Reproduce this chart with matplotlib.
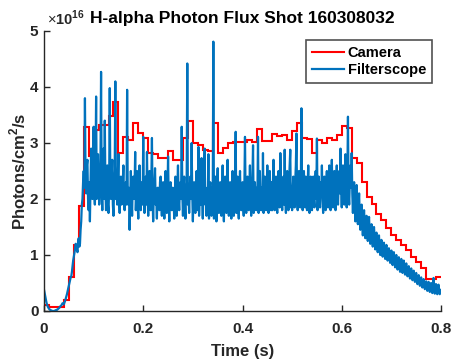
import numpy as np
import matplotlib
matplotlib.use("Agg")
import matplotlib.pyplot as plt

plt.rcParams['font.family'] = ['Liberation Sans', 'DejaVu Sans']
plt.rcParams['mathtext.fontset'] = 'custom'
plt.rcParams['mathtext.rm'] = 'Liberation Sans'
plt.rcParams['mathtext.bf'] = 'Liberation Sans:bold'

title = "H-alpha Photon Flux Shot 160308032"
xlabel = "Time (s)"
ylabel = r"Photons/cm$^{\mathbf{2}}$/s"
x_ticks = [0, 0.2, 0.4, 0.6, 0.8]
x_ticklabels = ["0", "0.2", "0.4", "0.6", "0.8"]
y_ticks = [0, 1, 2, 3, 4, 5]
y_ticklabels = ["0", "1", "2", "3", "4", "5"]

# Camera: one value per frame (units of 1e16 photons/cm^2/s), frame period 0.01 s
camera_frame = 0.01
camera_vals = [
    0.10, 0.08, 0.08, 0.08, 0.20, 0.60, 1.18, 1.88, 3.29, 2.76,
    3.23, 3.32, 3.32, 3.48, 3.74, 2.83, 3.11, 3.05, 3.36, 3.18,
    3.09, 2.82, 2.80, 2.73, 2.73, 2.85, 2.70, 2.70, 3.09, 3.40,
    3.00, 2.96, 2.88, 2.85, 3.36, 2.82, 2.91, 3.00, 3.02, 3.02,
    3.02, 3.05, 3.02, 3.25, 3.04, 3.04, 3.16, 3.12, 3.14, 3.05,
    3.22, 3.36, 3.09, 3.07, 2.82, 3.05, 3.00, 3.09, 3.05, 3.14,
    3.30, 3.26, 2.74, 2.64, 2.31, 2.04, 1.91, 1.74, 1.62, 1.48,
    1.36, 1.27, 1.18, 1.09, 0.97, 0.88, 0.76, 0.58, 0.58, 0.61,
]

# Filterscope: sampled every 0.00125 s (units of 1e16 photons/cm^2/s)
filt_dt = 0.00125
filt_vals = [
    0.38, 0.32, 0.25, 0.20, 0.15, 0.11, 0.08, 0.06, 0.04, 0.03, 0.02, 0.01, 0.01, 0.00, 0.00, 0.00,
    0.00, 0.00, 0.01, 0.01, 0.02, 0.02, 0.03, 0.04, 0.05, 0.06, 0.08, 0.09, 0.10, 0.12, 0.14, 0.13,
    0.12, 0.15, 0.18, 0.22, 0.26, 0.30, 0.35, 0.40, 0.45, 0.50, 0.55, 0.60, 0.62, 0.70, 0.80, 0.90,
    0.97, 1.05, 1.10, 1.20, 1.18, 1.10, 1.05, 1.25, 1.30, 1.15, 1.20, 1.45, 1.60, 1.90, 2.00, 2.30,
    2.50, 2.20, 3.80, 2.40, 2.10, 2.60, 2.70, 2.00, 1.80, 2.30, 1.60, 2.20, 2.90, 2.10, 2.00, 2.50,
    3.29, 2.10, 1.90, 2.50, 3.83, 2.00, 2.20, 2.80, 2.40, 1.90, 2.20, 2.60, 4.27, 2.10, 1.80, 2.40,
    2.90, 2.00, 3.40, 2.20, 1.80, 2.30, 2.60, 1.90, 1.75, 2.20, 3.98, 2.10, 2.00, 2.40, 2.70, 1.90,
    1.70, 2.20, 2.50, 4.10, 2.00, 2.20, 1.90, 2.40, 2.80, 2.00, 1.75, 2.20, 2.40, 1.90, 2.00, 2.30,
    2.60, 2.00, 1.80, 2.20, 2.30, 1.90, 3.95, 2.10, 1.90, 2.20, 1.45, 2.00, 2.50, 2.10, 1.70, 2.30,
    2.40, 2.00, 2.20, 2.84, 1.80, 2.10, 2.50, 1.90, 1.65, 2.20, 2.60, 2.00, 1.80, 2.20, 2.30, 1.90,
    3.11, 2.00, 1.75, 2.20, 2.40, 1.90, 2.84, 2.10, 1.70, 2.20, 2.50, 1.90, 1.80, 2.30, 3.09, 2.00,
    1.60, 2.10, 2.30, 2.55, 1.90, 2.00, 1.65, 2.20, 2.20, 1.90, 1.80, 2.30, 2.40, 2.00, 1.70, 2.20,
    2.30, 1.90, 1.65, 2.20, 2.50, 2.00, 1.75, 2.10, 2.76, 2.00, 1.60, 2.20, 2.30, 1.90, 1.80, 2.20,
    2.20, 1.90, 1.65, 2.10, 2.40, 2.00, 1.70, 2.20, 2.60, 2.00, 1.80, 2.20, 2.30, 2.00, 3.29, 2.10,
    1.70, 2.20, 2.40, 1.90, 1.65, 2.10, 2.30, 4.42, 1.90, 2.10, 1.75, 2.20, 2.40, 2.00, 3.00, 2.10,
    1.60, 2.10, 2.30, 1.90, 1.75, 2.20, 2.50, 2.00, 1.80, 2.93, 1.70, 2.10, 2.30, 1.90, 2.73, 2.00,
    1.65, 2.20, 2.40, 2.90, 1.90, 2.00, 1.70, 2.20, 1.90, 2.80, 1.65, 2.10, 2.30, 1.90, 1.70, 2.20,
    2.00, 4.81, 1.65, 2.10, 2.40, 1.90, 1.60, 2.20, 2.55, 1.90, 1.75, 2.20, 2.30, 1.90, 1.70, 2.10,
    2.60, 2.00, 1.60, 2.20, 2.40, 1.90, 1.75, 2.10, 2.70, 2.00, 1.70, 2.20, 2.30, 1.90, 1.65, 2.10,
    2.50, 2.00, 1.70, 2.20, 2.40, 3.20, 1.75, 2.10, 2.40, 1.90, 1.65, 2.20, 2.50, 2.00, 1.80, 2.20,
    2.30, 1.90, 1.70, 2.20, 3.11, 2.00, 1.75, 2.20, 2.40, 1.90, 1.80, 2.20, 2.60, 2.00, 1.70, 2.20,
    2.40, 2.96, 1.75, 2.10, 2.30, 1.90, 1.80, 2.20, 2.00, 3.11, 1.75, 2.10, 2.50, 2.00, 1.80, 2.20,
    1.80, 2.82, 1.75, 2.20, 2.40, 2.00, 1.80, 2.20, 2.60, 2.00, 1.75, 2.20, 2.50, 2.00, 1.80, 2.30,
    1.80, 2.20, 2.70, 2.00, 1.80, 2.20, 2.40, 1.95, 1.75, 2.20, 2.50, 2.10, 1.85, 2.82, 2.30, 2.00,
    1.80, 2.20, 2.40, 1.90, 2.88, 2.00, 1.75, 2.20, 2.50, 2.00, 1.80, 2.30, 2.60, 2.88, 1.85, 2.20,
    1.80, 2.20, 2.40, 2.00, 1.85, 2.30, 2.60, 3.17, 2.00, 1.80, 2.30, 2.50, 2.00, 1.85, 2.20, 3.62,
    2.10, 1.80, 2.30, 2.50, 2.00, 1.85, 2.40, 2.10, 1.80, 2.20, 2.60, 2.00, 1.75, 2.20, 2.40, 2.00,
    1.80, 2.20, 2.40, 2.00, 1.85, 2.30, 2.50, 2.00, 3.08, 1.80, 2.20, 2.40, 2.00, 1.85, 2.30, 2.10,
    2.60, 2.00, 1.75, 2.20, 2.40, 2.00, 1.80, 2.30, 2.50, 2.00, 1.85, 2.30, 2.60, 2.10, 1.80, 2.30,
    2.70, 2.10, 1.85, 2.30, 2.50, 2.00, 1.80, 2.30, 2.60, 2.10, 1.90, 2.30, 2.50, 2.10, 2.90, 2.20,
    1.85, 2.30, 2.60, 2.10, 1.90, 2.40, 2.80, 2.20, 1.85, 2.30, 3.47, 2.10, 1.90, 2.30, 2.60, 2.20,
    2.82, 2.10, 1.75, 2.20, 2.30, 1.90, 1.60, 2.00, 2.25, 1.80, 1.55, 1.90, 2.10, 1.70, 1.45, 1.80,
    1.90, 1.60, 1.35, 1.70, 1.80, 1.50, 1.30, 1.60, 1.70, 1.45, 1.25, 1.55, 1.68, 1.40, 1.20, 1.45,
    1.55, 1.35, 1.15, 1.40, 1.50, 1.30, 1.10, 1.35, 1.40, 1.20, 1.05, 1.25, 1.35, 1.15, 1.00, 1.20,
    1.27, 1.10, 0.97, 1.15, 1.22, 1.05, 0.93, 1.10, 1.18, 1.00, 0.90, 1.05, 1.12, 0.98, 0.86, 1.00,
    1.08, 0.95, 0.82, 0.98, 1.05, 0.90, 0.78, 0.95, 1.00, 0.86, 0.74, 0.90, 0.96, 0.82, 0.70, 0.85,
    0.93, 0.80, 0.68, 0.82, 0.90, 0.76, 0.65, 0.78, 0.85, 0.72, 0.62, 0.75, 0.80, 0.68, 0.58, 0.70,
    0.76, 0.64, 0.55, 0.66, 0.72, 0.60, 0.52, 0.62, 0.68, 0.56, 0.48, 0.58, 0.64, 0.53, 0.45, 0.55,
    0.60, 0.50, 0.42, 0.52, 0.57, 0.47, 0.39, 0.48, 0.53, 0.44, 0.36, 0.45, 0.52, 0.42, 0.34, 0.43,
    0.50, 0.40, 0.32, 0.42, 0.59, 0.45, 0.31, 0.40, 0.48, 0.38, 0.30, 0.40, 0.47, 0.36, 0.30, 0.38,
    0.35,
]

cam_edges = np.arange(len(camera_vals) + 1) * camera_frame
filt_t = np.arange(len(filt_vals)) * filt_dt

axis_col = '#262626'
fig = plt.figure(figsize=(4.53, 3.60), dpi=100)
ax = fig.add_axes([44/453, 49/360, 397/453, 280/360])

ax.stairs(camera_vals, cam_edges, color='#FF0000', lw=1.5, label='Camera', baseline=None)
ax.plot(filt_t, filt_vals, color='#0072BD', lw=1.6, label='Filterscope')

ax.set_xlim(0, 0.8)
ax.set_ylim(0, 5)
ax.set_xticks(x_ticks)
ax.set_xticklabels(x_ticklabels)
ax.set_yticks(y_ticks)
ax.set_yticklabels(y_ticklabels)
for s in ['top', 'right']:
    ax.spines[s].set_visible(False)
for s in ['left', 'bottom']:
    ax.spines[s].set_color(axis_col)
    ax.spines[s].set_linewidth(1.0)
ax.tick_params(direction='in', length=4, width=1.0, colors=axis_col, labelsize=11)
ax.tick_params(axis='x', pad=8)
ax.tick_params(axis='y', pad=4)
for lab in ax.get_xticklabels() + ax.get_yticklabels():
    lab.set_fontweight('bold')
    lab.set_color(axis_col)

ax.set_xlabel(xlabel, fontsize=12, fontweight='bold', color=axis_col, labelpad=6)
ax.set_ylabel(ylabel, fontsize=12, fontweight='bold', color=axis_col, labelpad=1)
ax.set_title(title, fontsize=12.5, fontweight='bold', color='black', pad=6)
ax.text(0.008, 1 + 6/280, r'$\times$10$^{\mathbf{16}}$', transform=ax.transAxes,
        fontsize=10.5, fontweight='bold', color=axis_col, ha='left', va='baseline')

leg = ax.legend(loc='upper right', bbox_to_anchor=(0.977, 0.968), fontsize=10.5,
                frameon=True, fancybox=False, edgecolor=axis_col,
                handlelength=2.2, borderpad=0.4, labelspacing=0.25,
                handletextpad=0.25, borderaxespad=0.0)
leg.get_frame().set_linewidth(1.2)
for t in leg.get_texts():
    t.set_fontweight('bold')

fig.savefig('out.png', dpi=100)
